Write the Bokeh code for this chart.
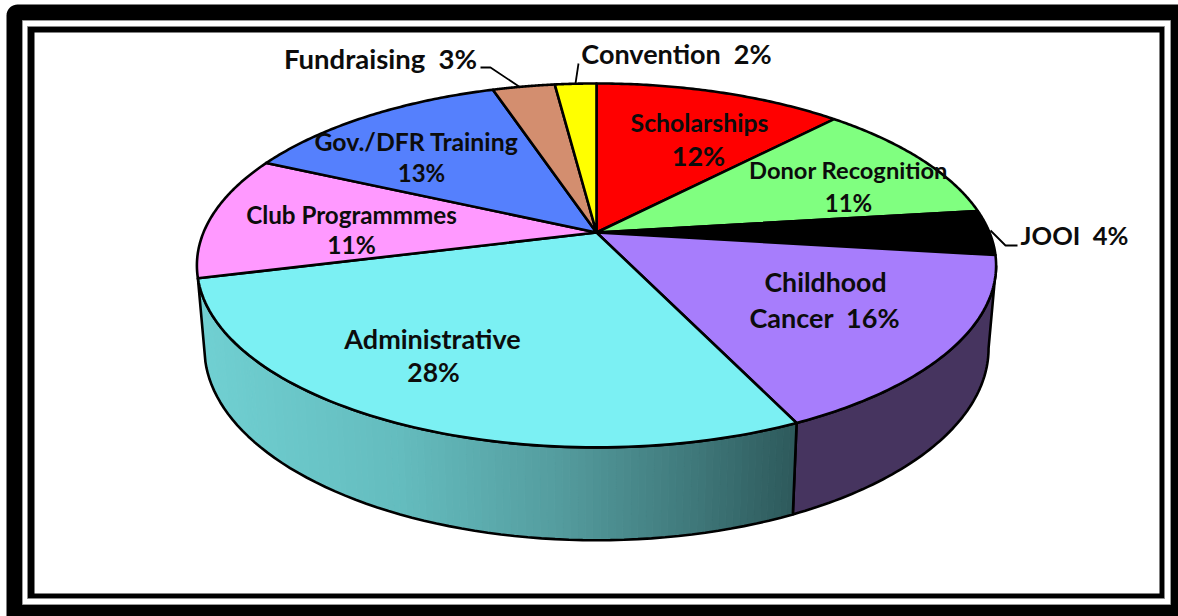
import math
from bokeh.plotting import figure
from bokeh.models import Range1d, ColumnDataSource
from bokeh.core.properties import value
from bokeh.embed import file_html
from bokeh.resources import INLINE

# ---- data ----
categories = ["Scholarships", "Donor Recognition", "JOOI", "Childhood Cancer", "Administrative",
              "Club Programmmes", "Gov./DFR Training", "Fundraising", "Convention"]
percents = [12, 11, 4, 16, 28, 11, 13, 3, 2]
top_colors = ["#ff0000", "#80ff80", "#000000", "#a77dfc", "#7bf0f3", "#ff99ff", "#5580fd", "#d38e6f", "#ffff00"]

GAP = "\u00a0\u00a0"
label_lines = ["Scholarships", "12%", "Donor Recognition", "11%", "JOOI" + GAP + "4%", "Childhood", "Cancer" + GAP + "16%",
               "Administrative", "28%", "Club Programmmes", "11%", "Gov./DFR Training", "13%",
               "Fundraising" + GAP + "3%", "Convention" + GAP + "2%"]
label_x = [699, 698, 848, 848, 1074, 825, 824, 432, 433, 351, 351, 416, 421, 380, 676]
label_y = [121.5, 154.5, 169.5, 201.5, 234.5, 281.5, 316.5, 337.5, 371.5, 213.5, 244, 140.5, 171.5, 58, 53]
label_size = [24.8, 27, 23.7, 24, 25.5, 26.7, 27, 27, 26.5, 24.2, 24.5, 24.8, 24, 27.5, 27]

# ---- page geometry ----
W, H = 1178, 616

# ---- projection of the tilted disc ----
CX, K = 596, 0.181
TOP = dict(a=393.0, b=176.0, y0=232.0)
LOW = dict(a=385.6, b=185.7, y0=313.0)
EDGE_A, EDGE_B = math.degrees(math.acos(-K)), 360 - math.degrees(math.acos(-K))


def project(theta, d):
    t = math.radians(theta)
    w = 1 + K * math.cos(t)
    return CX + d["a"] * math.sin(t) / w, d["y0"] - d["b"] * math.cos(t) / w


def arc(t0, t1, d, n=80):
    pts = [project(t0 + (t1 - t0) * i / n, d) for i in range(n + 1)]
    return [q[0] for q in pts], [q[1] for q in pts]


def side_poly(t0, t1, n=60):
    tx, ty = arc(t0, t1, TOP, n)
    lx, ly = arc(t1, t0, LOW, n)
    return tx + lx, ty + ly


def mix(stops, x):
    for (x0, c0), (x1, c1) in zip(stops, stops[1:]):
        if x <= x1:
            f = max(0, (x - x0) / (x1 - x0))
            return "#%02x%02x%02x" % tuple(round(a + (b - a) * f) for a, b in zip(c0, c1))
    return "#%02x%02x%02x" % stops[-1][1]


cyan_stops = [(200, (112, 208, 210)), (400, (100, 188, 190)), (560, (84, 156, 158)),
              (700, (62, 118, 120)), (790, (46, 90, 92))]

p = figure(width=W, height=H, x_range=Range1d(0, W), y_range=Range1d(H, 0),
           output_backend="svg", toolbar_location=None, min_border=0,
           background_fill_color="white", border_fill_color="white", outline_line_color=None)
p.axis.visible = False
p.grid.visible = False

# frame: outer black with a rounded top-left corner
R, L, T = 11, 6, 4
corner = [(L + R - R * math.sin(math.radians(a)), T + R - R * math.cos(math.radians(a))) for a in range(0, 91, 10)]
fx = [W, W, L] + [q[0] for q in reversed(corner)]
fy = [T, H, H] + [q[1] for q in reversed(corner)]
p.patch(fx, fy, fill_color="black", line_color=None)
p.quad(left=[22], right=[1170], top=[20], bottom=[604], fill_color="white", line_color="#999999", line_width=1)
p.quad(left=[27], right=[1164], top=[26], bottom=[598], fill_color="black", line_color="#888888", line_width=1)
p.quad(left=[34], right=[1159], top=[32], bottom=[593], fill_color="white", line_color=None)

# slice boundaries
edges = [0]
for v in percents:
    edges.append(edges[-1] + v * 3.6)

# sides
i_pur, i_cyan = 3, 4
t0, t1 = max(edges[i_pur], EDGE_A), edges[i_pur + 1]
xs, ys = side_poly(t0, t1)
p.patch(xs, ys, fill_color="#46345f", line_color="black", line_width=2.6)

t0, t1 = edges[i_cyan], min(edges[i_cyan + 1], EDGE_B)
N = 110
sx, sy, sc = [], [], []
for i in range(N):
    a = t0 + (t1 - t0) * i / N
    b = t0 + (t1 - t0) * (i + 1) / N
    xs, ys = side_poly(a, b, 2)
    sx.append(xs)
    sy.append(ys)
    sc.append(mix(cyan_stops, sum(xs) / len(xs)))
p.patches(xs=sx, ys=sy, fill_color=sc, line_color=sc, line_width=1)
xs, ys = side_poly(t0, t1)
p.patch(xs + xs[:1], ys + ys[:1], fill_alpha=0, line_color="black", line_width=2.6)

# top wedges
wx, wy = [], []
for a, b in zip(edges, edges[1:]):
    ax, ay = arc(a, b, TOP)
    wx.append([CX] + ax + [CX])
    wy.append([TOP["y0"]] + ay + [TOP["y0"]])
p.patches(xs=wx, ys=wy, fill_color=top_colors, line_color="black", line_width=2.6, line_join="round")

# leader lines
leader_x = [[480, 490, 520], [578, 575], [990, 1005, 1017]]
leader_y = [[67, 67, 87], [63, 83], [230, 245, 245]]
p.multi_line(xs=leader_x, ys=leader_y, line_color="black", line_width=1.8)

# labels
src = ColumnDataSource(dict(x=label_x, y=label_y, t=label_lines, s=[f"{v}px" for v in label_size]))
p.text(x="x", y="y", text="t", source=src, text_font=value("Lato"), text_font_style="bold",
       text_font_size="s", text_align="center", text_baseline="middle", text_color="#0c0c0c")

open("out.html", "w").write(file_html(p, INLINE))
